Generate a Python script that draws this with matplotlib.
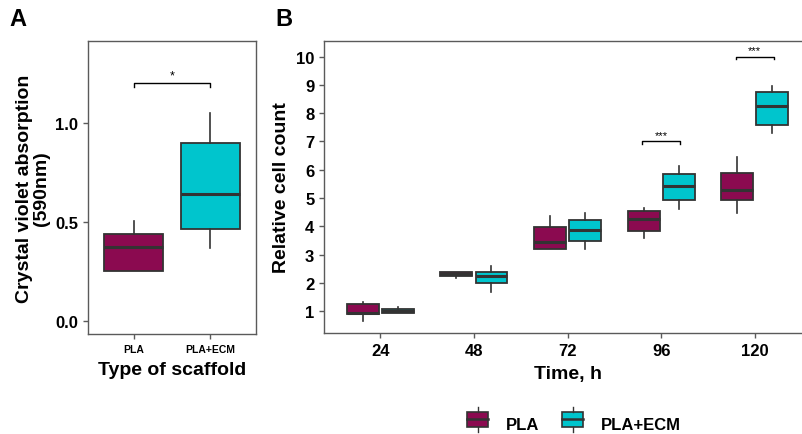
import matplotlib
matplotlib.use("Agg")
import matplotlib.pyplot as plt
from matplotlib.patches import Rectangle
from matplotlib.lines import Line2D
from matplotlib.legend_handler import HandlerBase

plt.rcParams['font.family'] = ['Liberation Sans', 'DejaVu Sans']
plt.rcParams['font.weight'] = 'bold'
plt.rcParams['axes.labelweight'] = 'bold'

PLA_COLOR = '#8B0A50'
ECM_COLOR = '#00C5CD'
EDGE = '#333333'
FRAME = '#5a5a5a'

# Panel A: crystal violet absorption (whislo, q1, med, q3, whishi)
scaffolds = ['PLA', 'PLA+ECM']
absorb_pla = [0.253, 0.253, 0.374, 0.44, 0.505]
absorb_ecm = [0.37, 0.465, 0.64, 0.90, 1.05]

# Panel B: relative cell count per time point (whislo, q1, med, q3, whishi)
times = ['24', '48', '72', '96', '120']
count_pla = [
    [0.65, 0.89, 0.95, 1.27, 1.32],
    [2.18, 2.24, 2.31, 2.38, 2.39],
    [3.20, 3.20, 3.44, 3.97, 4.38],
    [3.58, 3.83, 4.26, 4.53, 4.64],
    [4.46, 4.94, 5.29, 5.89, 6.44],
]
count_ecm = [
    [0.92, 0.92, 0.99, 1.07, 1.16],
    [1.67, 2.00, 2.26, 2.40, 2.61],
    [3.20, 3.49, 3.87, 4.24, 4.46],
    [4.61, 4.92, 5.44, 5.86, 6.15],
    [7.29, 7.58, 8.25, 8.76, 8.97],
]
# significance brackets in B: (time index, y level, label)
sig_b = [(3, 7.0, '***'), (4, 10.0, '***')]


def stats(v):
    return dict(whislo=v[0], q1=v[1], med=v[2], q3=v[3], whishi=v[4], fliers=[])


def draw_boxes(ax, values, positions, color, width):
    ax.bxp([stats(v) for v in values], positions=positions, widths=width,
           patch_artist=True, showcaps=False, showfliers=False,
           boxprops=dict(facecolor=color, edgecolor=EDGE, linewidth=1.3),
           medianprops=dict(color=EDGE, linewidth=2.2),
           whiskerprops=dict(color=EDGE, linewidth=1.2),
           manage_ticks=False)


def style_axes(ax):
    for s in ax.spines.values():
        s.set_color(FRAME)
        s.set_linewidth(1.0)
    ax.tick_params(color=FRAME, length=3.5, width=1.0)


def bracket(ax, x1, x2, y, h, label, size):
    ax.plot([x1, x1, x2, x2], [y - h, y, y, y - h], color='black', lw=1.0)
    ax.text((x1 + x2) / 2, y + h * 0.6, label, ha='center', va='bottom',
            fontsize=size, fontweight='normal')


class BoxHandler(HandlerBase):
    def create_artists(self, legend, orig, xd, yd, w, h, fontsize, trans):
        col = orig.get_facecolor()
        bw = w * 0.8
        x0 = xd + (w - bw) / 2
        box = Rectangle((x0, yd), bw, h, facecolor=col, edgecolor=EDGE,
                        lw=1.2, transform=trans)
        med = Line2D([x0, x0 + bw], [yd + h / 2] * 2, color=EDGE, lw=1.8,
                     transform=trans)
        up = Line2D([xd + w / 2] * 2, [yd + h, yd + h * 1.3], color=EDGE,
                    lw=1.0, transform=trans)
        lo = Line2D([xd + w / 2] * 2, [yd, yd - h * 0.3], color=EDGE,
                    lw=1.0, transform=trans)
        return [box, med, up, lo]


fig = plt.figure(figsize=(8.03, 4.35), dpi=100)

# ---- Panel A
axA = fig.add_axes([0.1096, 0.2299, 0.2092, 0.6735])
draw_boxes(axA, [absorb_pla], [1], PLA_COLOR, 0.77)
draw_boxes(axA, [absorb_ecm], [2], ECM_COLOR, 0.77)
axA.set_xlim(0.4, 2.6)
axA.set_ylim(-0.066, 1.414)
axA.set_xticks([1, 2])
axA.set_xticklabels(scaffolds, fontsize=7.5)
axA.set_yticks([0.0, 0.5, 1.0])
axA.set_yticklabels(['0.0', '0.5', '1.0'], fontsize=12)
axA.set_xlabel('Type of scaffold', fontsize=14, labelpad=5)
axA.set_ylabel('Crystal violet absorption\n(590nm)', fontsize=14,
               linespacing=0.95, labelpad=4)
style_axes(axA)
bracket(axA, 1, 2, 1.2, 0.02, '*', 9)

# ---- Panel B
axB = fig.add_axes([0.4035, 0.2322, 0.6065, 0.6712])
xs = list(range(1, len(times) + 1))
off = 0.1875
draw_boxes(axB, count_pla, [x - off for x in xs], PLA_COLOR, 0.34)
draw_boxes(axB, count_ecm, [x + off for x in xs], ECM_COLOR, 0.34)
axB.set_xlim(0.4, 5.6)
axB.set_ylim(0.23, 10.55)
axB.set_xticks(xs)
axB.set_xticklabels(times, fontsize=12)
axB.set_yticks(range(1, 11))
axB.set_yticklabels([str(i) for i in range(1, 11)], fontsize=12)
axB.set_xlabel('Time, h', fontsize=14, labelpad=5)
axB.set_ylabel('Relative cell count', fontsize=14, labelpad=4)
style_axes(axB)
for i, y, lab in sig_b:
    bracket(axB, xs[i] - 0.2, xs[i] + 0.2, y, 0.1, lab, 8)

# legend
hp = Rectangle((0, 0), 1, 1, facecolor=PLA_COLOR)
he = Rectangle((0, 0), 1, 1, facecolor=ECM_COLOR)
fig.legend([hp, he], scaffolds, loc='center', bbox_to_anchor=(0.713, 0.023),
           ncol=2, frameon=False, fontsize=12, handler_map={Rectangle: BoxHandler()},
           handlelength=1.6, handleheight=1.05, columnspacing=1.2, handletextpad=0.9)

fig.text(0.012, 0.955, 'A', fontsize=17, fontweight='bold', va='center')
fig.text(0.343, 0.955, 'B', fontsize=17, fontweight='bold', va='center')

fig.savefig('out.png', dpi=100)
